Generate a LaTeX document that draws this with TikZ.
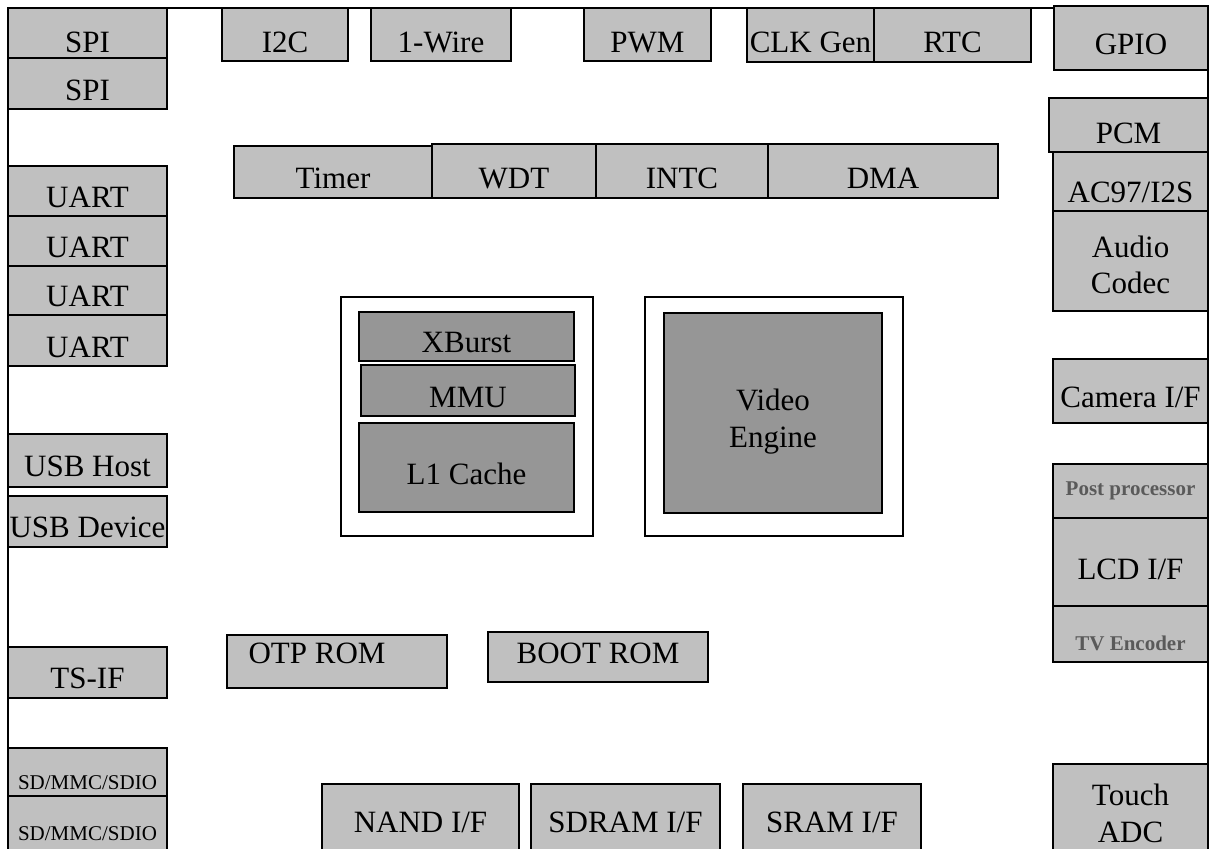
\documentclass[tikz,border=0pt]{standalone}
\usepackage{fontspec}
\setmainfont{Liberation Serif}
\usetikzlibrary{fit}
\definecolor{boxgray}{HTML}{C0C0C0}
\definecolor{coregray}{HTML}{969696}
\definecolor{labelgray}{HTML}{5A5A5A}
\tikzset{
  blkbox/.style={draw=black, line width=0.9pt, fill=boxgray, inner sep=0pt, outer sep=0pt},
  corebox/.style={blkbox, fill=coregray},
  framebox/.style={blkbox, fill=white},
  lbl/.style={inner sep=0pt, anchor=base, font=\fontsize{15.5}{18.5}\selectfont},
  smalllbl/.style={lbl, font=\fontsize{10.5}{12}\selectfont},
  graylbl/.style={lbl, font=\fontsize{10.5}{12}\selectfont\bfseries, text=labelgray},
  frameline/.style={draw=black, line width=0.9pt},
}
% #1 label style, #2 name, #3 box style, #4 x1, #5 y1, #6 x2, #7 y2, #8 baseline y, #9 text
\newcommand\blk[9][lbl]{%
  \node[#3, fit={(#4,#5) (#6,#7)}] (#2) {};
  \node[#1] (#2t) at ({(#4+#6)/2},#8) {#9};
}
\begin{document}
\begin{tikzpicture}[x=0.5pt,y=-0.5pt]
\useasboundingbox (0,0) rectangle (1211,848);
% outer frame
\coordinate (fbl) at (8,860);
\coordinate (ftl) at (8,8);
\coordinate (ftr) at (1208,8);
\coordinate (fbr) at (1208,860);
\draw[frameline] (fbl) -- (ftl) -- (ftr) -- (fbr);

% left column
\blk{spi1}{blkbox}{8}{8}{167}{58}{52}{SPI}
\blk{spi2}{blkbox}{8}{58}{167}{109}{100}{SPI}
\blk{uart1}{blkbox}{8}{166}{167}{216}{207}{UART}
\blk{uart2}{blkbox}{8}{216}{167}{266}{257}{UART}
\blk{uart3}{blkbox}{8}{266}{167}{315}{306}{UART}
\blk{uart4}{blkbox}{8}{315}{167}{366}{357}{UART}
\blk{usbh}{blkbox}{8}{434}{167}{487}{476}{USB Host}
\blk{usbd}{blkbox}{8}{496}{167}{547}{537}{USB Device}
\blk{tsif}{blkbox}{8}{647}{167}{698}{688}{TS-IF}
\blk[smalllbl]{sd1}{blkbox}{8}{748}{167}{796}{789}{SD/MMC/SDIO}
\blk[smalllbl]{sd2}{blkbox}{8}{796}{167}{856}{840}{SD/MMC/SDIO}

% top row
\blk{i2c}{blkbox}{222}{8}{348}{61}{52}{I2C}
\blk{onew}{blkbox}{371}{8}{511}{61}{52}{1-Wire}
\blk{pwm}{blkbox}{584}{8}{711}{61}{52}{PWM}
\blk{clk}{blkbox}{747}{8}{874}{62}{52}{CLK Gen}
\blk{rtc}{blkbox}{874}{8}{1031}{62}{52}{RTC}

% second row
\blk{timer}{blkbox}{234}{146}{432}{198}{188}{Timer}
\blk{wdt}{blkbox}{432}{144}{596}{198}{188}{WDT}
\blk{intc}{blkbox}{596}{144}{768}{198}{188}{INTC}
\blk{dma}{blkbox}{768}{144}{998}{198}{188}{DMA}

% right column
\blk{gpio}{blkbox}{1054}{6}{1208}{70}{54}{GPIO}
\blk{pcm}{blkbox}{1049}{98}{1208}{152}{143}{PCM}
\blk{ac97}{blkbox}{1053}{152}{1208}{211}{202}{AC97/I2S}
\blk{audio}{blkbox}{1053}{211}{1208}{311}{257}{Audio}
\node[lbl] (audio2) at (1130.5,293) {Codec};
\blk{cam}{blkbox}{1053}{359}{1208}{423}{407}{Camera I/F}
\blk[graylbl]{post}{blkbox}{1053}{464}{1208}{518}{495}{Post processor}
\blk{lcd}{blkbox}{1053}{518}{1208}{606}{579}{LCD I/F}
\blk[graylbl]{tv}{blkbox}{1053}{606}{1208}{662}{650}{TV Encoder}
\blk{touch}{blkbox}{1053}{764}{1208}{856}{805}{Touch}
\node[lbl] (touch2) at (1130.5,842) {ADC};

% CPU core
\node[framebox, fit={(341,297) (593,536)}] (core) {};
\blk{xburst}{corebox}{359}{312}{574}{361}{352}{XBurst}
\blk{mmu}{corebox}{361}{365}{575}{416}{407}{MMU}
\blk{l1}{corebox}{359}{423}{574}{512}{484}{L1 Cache}

% Video engine
\node[framebox, fit={(645,297) (903,536)}] (vout) {};
\blk{video}{corebox}{664}{313}{882}{513}{410}{Video}
\node[lbl] (video2) at (773,447) {Engine};

% ROMs
\node[blkbox, fit={(227,635) (447,688)}] (otp) {};
\node[lbl] (otpt) at (317,663) {OTP ROM};
\blk{boot}{blkbox}{488}{632}{708}{682}{663}{BOOT ROM}

% memory interfaces
\blk{nand}{blkbox}{322}{784}{519}{856}{832}{NAND I/F}
\blk{sdram}{blkbox}{531}{784}{720}{856}{832}{SDRAM I/F}
\blk{sram}{blkbox}{743}{784}{921}{856}{832}{SRAM I/F}
\end{tikzpicture}
\end{document}
